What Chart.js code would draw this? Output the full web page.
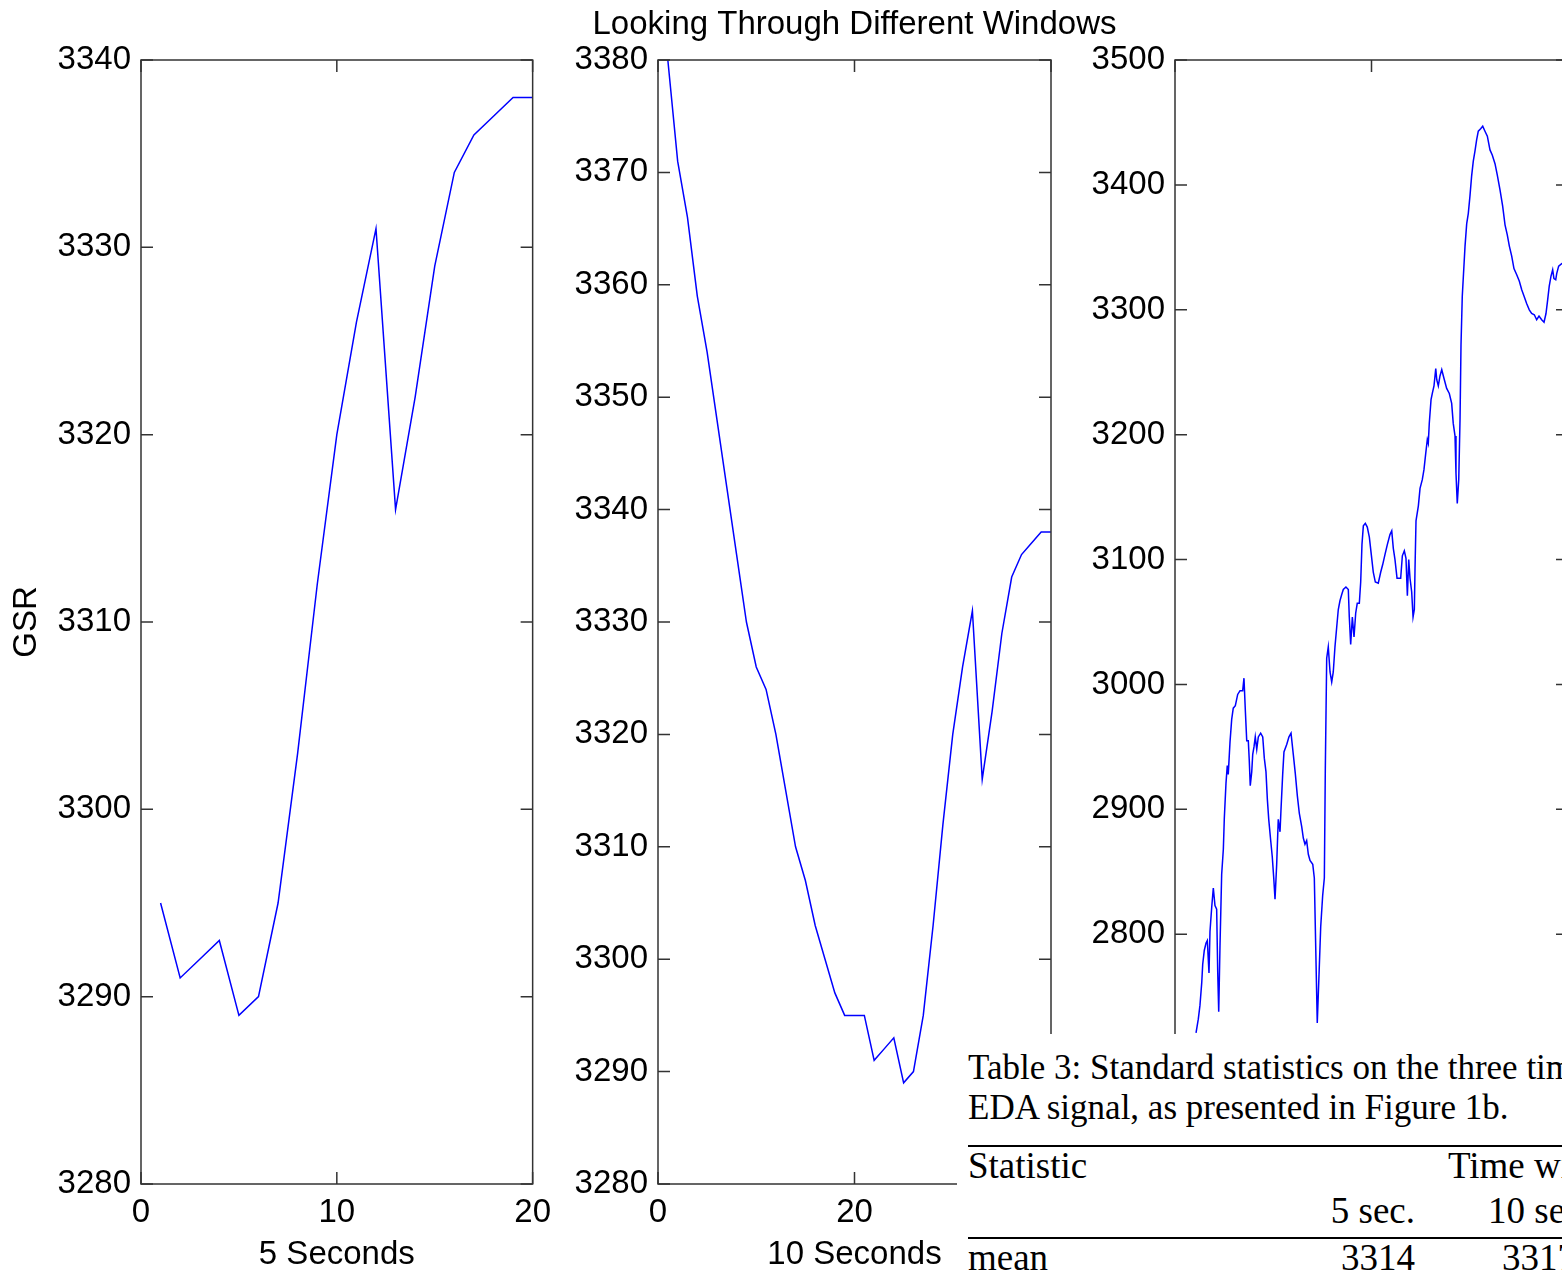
<!DOCTYPE html>
<html>
<head>
<meta charset="utf-8">
<script src="https://cdn.jsdelivr.net/npm/chart.js@4.4.1/dist/chart.umd.min.js"></script>
<style>
  html, body { margin: 0; padding: 0; background: #fff; overflow: hidden; }
  body { position: relative; width: 1562px; height: 1272px; }
  canvas { position: absolute; top: 0; }
  #tableBox {
    position: absolute; left: 957px; top: 1034px; width: 605px; height: 238px;
    background: #fff; z-index: 10; overflow: hidden;
    font-family: "Liberation Serif", "Times New Roman", serif; color: #000;
  }
  #tableBox span { position: absolute; white-space: nowrap; line-height: 1; }
  #tableBox .cap { font-size: 35px; }
  #tableBox .cell { font-size: 37px; }
  #tableBox .rule { position: absolute; left: 11px; right: 0; height: 2px; background: #000; }
</style>
</head>
<body>
<canvas id="win5" width="560" height="1272" style="left:0"></canvas>
<canvas id="win10" width="589" height="1272" style="left:560px"></canvas>
<canvas id="winLong" width="500" height="1272" style="left:1080px"></canvas>

<div id="tableBox">
  <span class="cap" style="left:11px;top:16px">Table 3: Standard statistics on the three time</span>
  <span class="cap" style="left:11px;top:56px">EDA signal, as presented in Figure 1b.</span>
  <div class="rule" style="top:111px"></div>
  <span class="cell" style="left:11px;top:113px">Statistic</span>
  <span class="cell" style="left:491px;top:113px">Time window</span>
  <span class="cell" style="right:147px;top:158px">5 sec.</span>
  <span class="cell" style="left:531px;top:158px">10 sec.</span>
  <div class="rule" style="top:203px"></div>
  <span class="cell" style="left:11px;top:205px">mean</span>
  <span class="cell" style="right:147px;top:205px">3314</span>
  <span class="cell" style="left:545px;top:205px">3317</span>
</div>

<script>
// 5 second window, one value per sample (samples 1..20)
const gsr5s = [3295, 3291, 3292, 3293, 3289, 3290, 3295, 3303, 3312, 3320,
               3326, 3331, 3316, 3322, 3329, 3334, 3336, 3337, 3338, 3338];

// 10 second window (samples 1..40)
const gsr10s = [3380, 3371, 3366, 3359, 3354, 3348, 3342, 3336, 3330, 3326,
                3324, 3320, 3315, 3310, 3307, 3303, 3300, 3297, 3295, 3295,
                3295, 3291, 3292, 3293, 3289, 3290, 3295, 3303, 3312, 3320,
                3326, 3331, 3316, 3322, 3329, 3334, 3336, 3337, 3338, 3338];

// long window (sample position, value)
const tLong = [21.4, 23.7, 25.4, 27.2, 28.2, 29.8, 31.6, 32.9, 34.6, 35.6,
  37.4, 39.0, 40.7, 42.4, 43.5, 44.5, 45.8, 47.5, 49.2, 50.2,
  51.9, 53.2, 54.2, 56.0, 57.7, 59.3, 61.4, 63.8, 66.2, 68.9,
  70.2, 71.6, 73.0, 74.6, 75.6, 76.6, 78.1, 79.1, 80.4, 81.7,
  83.2, 84.8, 87.2, 89.3, 90.9, 92.6, 94.0, 95.4, 97.4, 99.0,
  100.5, 101.8, 103.5, 105.1, 106.9, 107.9, 109.6, 110.9, 113.7, 116.0,
  118.1, 120.4, 122.4, 124.5, 126.5, 129.0, 130.6, 132.3, 134.0, 135.7,
  137.4, 140.2, 141.8, 143.5, 144.8, 146.6, 148.3, 150.3, 152.0, 153.0,
  154.4, 156.0, 157.8, 159.5, 161.1, 162.8, 164.6, 166.2, 167.9, 169.7,
  171.3, 174.0, 176.4, 177.4, 178.8, 180.5, 182.2, 183.9, 185.5, 187.6,
  189.0, 190.3, 191.7, 193.7, 195.7, 197.8, 199.8, 201.8, 203.9, 206.9,
  209.4, 211.4, 213.7, 216.1, 218.8, 220.6, 222.2, 223.9, 226.0, 227.7,
  229.7, 231.4, 233.4, 235.1, 236.5, 237.9, 239.2, 240.9, 242.3, 243.6,
  244.3, 245.3, 247.7, 249.4, 251.7, 253.4, 255.2, 256.8, 257.8, 258.8,
  260.6, 261.9, 263.6, 265.4, 266.4, 268.0, 269.7, 271.5, 273.8, 276.5,
  279.2, 281.6, 283.2, 285.0, 286.0, 287.3, 288.8, 290.1, 291.1, 292.4,
  293.8, 295.2, 296.9, 298.5, 300.2, 301.9, 303.6, 305.3, 307.0, 308.7,
  311.1, 313.2, 315.5, 317.9, 320.6, 322.9, 325.7, 328.0, 330.8, 333.5,
  335.9, 338.2, 340.3, 342.7, 345.0, 347.8, 350.4, 352.9, 355.2, 357.9,
  360.6, 363.0, 365.7, 368.1, 370.5, 373.2, 375.6, 377.6, 379.3, 380.9,
  382.7, 384.4, 385.7, 387.5, 388.5, 390.5, 393.6, 396.5, 400];
const gsrLong = [2721, 2732, 2743, 2761, 2776, 2787, 2793, 2795, 2769, 2802,
  2822, 2837, 2823, 2820, 2769, 2738, 2791, 2848, 2868, 2893,
  2921, 2935, 2928, 2954, 2972, 2981, 2983, 2992, 2995, 2995,
  3005, 2979, 2955, 2955, 2939, 2919, 2930, 2944, 2950, 2958,
  2948, 2958, 2961, 2958, 2941, 2930, 2908, 2892, 2875, 2862,
  2845, 2828, 2856, 2892, 2882, 2900, 2928, 2946, 2952, 2958,
  2961, 2944, 2929, 2911, 2897, 2886, 2877, 2872, 2875, 2864,
  2859, 2856, 2845, 2779, 2729, 2768, 2806, 2831, 2845, 2933,
  3021, 3030, 3010, 3002, 3010, 3030, 3046, 3060, 3067, 3072,
  3076, 3078, 3076, 3054, 3032, 3054, 3038, 3057, 3065, 3065,
  3082, 3112, 3127, 3129, 3126, 3118, 3104, 3090, 3082, 3081,
  3090, 3096, 3104, 3112, 3120, 3123, 3109, 3100, 3085, 3085,
  3085, 3103, 3107, 3101, 3071, 3100, 3085, 3074, 3054, 3060,
  3093, 3131, 3143, 3157, 3164, 3172, 3185, 3196, 3193, 3209,
  3228, 3233, 3239, 3253, 3244, 3239, 3247, 3252, 3245, 3237,
  3233, 3225, 3209, 3199, 3169, 3145, 3164, 3212, 3272, 3311,
  3331, 3351, 3369, 3377, 3391, 3407, 3419, 3427, 3436, 3443,
  3445, 3447, 3443, 3439, 3428, 3424, 3417, 3408, 3396, 3383,
  3368, 3360, 3351, 3343, 3333, 3328, 3323, 3316, 3311, 3305,
  3300, 3297, 3296, 3292, 3295, 3292, 3290, 3297, 3308, 3319,
  3327, 3332, 3325, 3324, 3329, 3335, 3337, 3338, 3338];

const FONT = "'Liberation Sans', Arial, Helvetica, sans-serif";
const AXIS_COLOR = "#333333";
const TICK_LEN = 12;

// matlab style box with inward ticks on all four sides
const boxTicks = {
  id: "boxTicks",
  afterDatasetsDraw(chart) {
    const { ctx, chartArea: a, scales } = chart;
    ctx.save();
    ctx.strokeStyle = AXIS_COLOR;
    ctx.lineWidth = 1.5;
    ctx.beginPath();
    scales.x.ticks.forEach(t => {
      const px = scales.x.getPixelForValue(t.value);
      ctx.moveTo(px, a.bottom); ctx.lineTo(px, a.bottom - TICK_LEN);
      ctx.moveTo(px, a.top); ctx.lineTo(px, a.top + TICK_LEN);
    });
    scales.y.ticks.forEach(t => {
      const py = scales.y.getPixelForValue(t.value);
      ctx.moveTo(a.left, py); ctx.lineTo(a.left + TICK_LEN, py);
      ctx.moveTo(a.right, py); ctx.lineTo(a.right - TICK_LEN, py);
    });
    ctx.stroke();
    ctx.strokeRect(a.left, a.top, a.right - a.left, a.bottom - a.top);
    ctx.restore();
  }
};

function makePanel(id, points, o) {
  const scales = {
    x: {
      type: "linear",
      min: o.xMin, max: o.xMax,
      grid: { display: false, drawTicks: false },
      border: { display: false },
      ticks: { display: o.xLabels, stepSize: o.xStep, padding: 9, color: "#000", maxRotation: 0,
               font: { family: FONT, size: 33 } },
      title: { display: !!o.xTitle, text: o.xTitle || "", color: "#000",
               font: { family: FONT, size: 33, lineHeight: 1 }, padding: { top: 0, bottom: 1 } },
      afterFit: s => { s.height = 88; }
    },
    y: {
      min: o.yMin, max: o.yMax,
      grid: { display: false, drawTicks: false },
      border: { display: false },
      ticks: { stepSize: o.yStep, padding: 10, color: "#000",
               font: { family: FONT, size: 33 },
               callback: v => String(v) },
      title: { display: !!o.yTitle, text: o.yTitle || "", color: "#000",
               font: { family: FONT, size: 33 }, padding: { top: 7, bottom: 0 } },
      afterFit: s => { s.width = o.yWidth; }
    }
  };
  if (o.rightGap) {
    // empty spacer on the right so the title centres over the plot box
    scales.gap = {
      position: "right",
      grid: { display: false, drawTicks: false },
      border: { display: false },
      ticks: { display: false },
      afterFit: s => { s.width = o.rightGap; }
    };
  }
  return new Chart(document.getElementById(id), {
    type: "line",
    data: {
      datasets: [{
        data: points,
        borderColor: "#0000ff",
        borderWidth: 1.5,
        pointRadius: 0,
        tension: 0,
        fill: false
      }]
    },
    options: {
      responsive: false,
      animation: false,
      layout: { padding: o.padding },
      plugins: {
        legend: { display: false },
        tooltip: { enabled: false },
        title: o.title ? {
          display: true,
          text: o.title,
          color: "#000",
          font: { family: FONT, size: 33, weight: "normal", lineHeight: 1.2 },
          padding: { top: 5, bottom: 15.4 }
        } : { display: false }
      },
      scales: scales
    },
    plugins: [boxTicks]
  });
}

makePanel("win5", gsr5s.map((v, i) => ({ x: i + 1, y: v })), {
  padding: { left: 0, right: 26, top: 60, bottom: 0 },
  xMin: 0, xMax: 20, xStep: 10, xLabels: true, xTitle: "5 Seconds",
  yMin: 3280, yMax: 3340, yStep: 10, yTitle: "GSR", yWidth: 141
});

makePanel("win10", gsr10s.map((v, i) => ({ x: i + 1, y: v })), {
  padding: { left: 0, right: 0, top: 0, bottom: 0 },
  title: "Looking Through Different Windows",
  xMin: 0, xMax: 40, xStep: 20, xLabels: true, xTitle: "10 Seconds",
  yMin: 3280, yMax: 3380, yStep: 10, yWidth: 98, rightGap: 98
});

makePanel("winLong", tLong.map((t, i) => ({ x: t, y: gsrLong[i] })), {
  padding: { left: 0, right: 12, top: 60, bottom: 0 },
  xMin: 0, xMax: 400, xStep: 200, xLabels: false,
  yMin: 2600, yMax: 3500, yStep: 100, yWidth: 95
});
</script>
</body>
</html>
